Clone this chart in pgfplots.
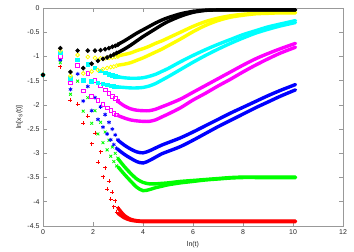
\documentclass[border=0pt]{standalone}
\usepackage{pgfplots}
\usepackage{pgfplotstable}
\pgfplotsset{compat=1.18}
\usepackage{fontspec}
\setmainfont{Liberation Sans}
\definecolor{gGreen}{RGB}{0,255,0}
\definecolor{gYellow}{RGB}{255,255,0}
\definecolor{gCyan}{RGB}{0,255,255}
\definecolor{gMag}{RGB}{255,0,255}
\definecolor{gBlue}{RGB}{0,0,255}
\definecolor{gRed}{RGB}{255,0,0}

\pgfplotstableread{
x      k      y      c      m      b      g      r
0.000 -1.38 -1.38 -1.38 -1.38 -1.38 -1.38 -1.38
0.693 -0.83 -0.88 -0.93 -1.00 -1.07 -1.13 -1.21
1.099 -1.32 -1.40 -1.45 -1.55 -1.68 -1.78 -1.90
1.386 -0.88 -0.97 -1.07 -1.19 -1.36 -1.51 -1.98
1.609 -1.24 -1.35 -1.49 -1.71 -1.92 -2.13 -2.38
1.792 -0.88 -1.01 -1.16 -1.35 -1.62 -1.85 -2.23
1.946 -1.15 -1.31 -1.52 -1.82 -2.12 -2.38 -2.80
2.079 -0.88 -1.03 -1.24 -1.50 -1.85 -2.12 -2.58
2.197 -1.09 -1.28 -1.55 -1.91 -2.30 -2.60 -3.18
2.303 -0.87 -1.04 -1.30 -1.60 -2.04 -2.36 -2.97
2.398 -1.05 -1.26 -1.57 -1.99 -2.46 -2.78 -3.48
2.485 -0.85 -1.04 -1.34 -1.69 -2.20 -2.56 -3.30
2.565 -1.02 -1.24 -1.59 -2.06 -2.60 -2.93 -3.74
2.639 -0.83 -1.03 -1.37 -1.76 -2.36 -2.73 -3.58
2.708 -0.99 -1.22 -1.61 -2.12 -2.72 -3.06 -3.95
2.773 -0.80 -1.02 -1.39 -1.82 -2.50 -2.87 -3.80
2.833 -0.96 -1.21 -1.62 -2.17 -2.82 -3.17 -4.10
2.890 -0.78 -1.01 -1.41 -1.87 -2.62 -3.00 -3.98
2.944 -0.93 -1.19 -1.63 -2.21 -2.90 -3.26 -4.22
2.996 -0.76 -1.00 -1.42 -1.92 -2.72 -3.10 -4.12
}\early

\pgfplotstableread{
x     kU    kL    yU    yL    cU    cL    mU    mL    bU    bL    gU    gL    rU    rL
3.00 -0.75 -0.92 -0.99 -1.18 -1.42 -1.63 -1.93 -2.22 -2.73 -2.92 -3.11 -3.28 -4.13 -4.24
3.25 -0.68 -0.85 -0.96 -1.16 -1.44 -1.64 -2.02 -2.27 -2.83 -3.02 -3.27 -3.43 -4.28 -4.33
3.50 -0.60 -0.77 -0.93 -1.13 -1.45 -1.65 -2.08 -2.31 -2.91 -3.10 -3.41 -3.57 -4.36 -4.38
3.75 -0.52 -0.68 -0.88 -1.08 -1.45 -1.65 -2.11 -2.33 -2.97 -3.17 -3.53 -3.70 -4.39 -4.40
4.00 -0.45 -0.59 -0.84 -1.03 -1.44 -1.64 -2.12 -2.34 -2.99 -3.20 -3.60 -3.77 -4.40 -4.41
4.25 -0.38 -0.51 -0.79 -0.97 -1.41 -1.61 -2.12 -2.34 -2.95 -3.15 -3.63 -3.75 -4.40 -4.41
4.50 -0.31 -0.43 -0.73 -0.91 -1.37 -1.56 -2.09 -2.31 -2.89 -3.08 -3.63 -3.71 -4.40 -4.41
4.75 -0.25 -0.35 -0.68 -0.85 -1.31 -1.49 -2.04 -2.25 -2.83 -3.01 -3.62 -3.68 -4.40 -4.41
5.00 -0.20 -0.28 -0.62 -0.78 -1.25 -1.42 -1.99 -2.19 -2.78 -2.96 -3.61 -3.65 -4.40 -4.41
5.50 -0.12 -0.17 -0.50 -0.64 -1.11 -1.27 -1.88 -2.06 -2.68 -2.86 -3.58 -3.61 -4.40 -4.41
6.00 -0.07 -0.09 -0.38 -0.49 -0.98 -1.12 -1.74 -1.90 -2.56 -2.73 -3.56 -3.58 -4.40 -4.41
6.50 -0.045 -0.05 -0.28 -0.36 -0.86 -0.98 -1.60 -1.76 -2.43 -2.59 -3.54 -3.55 -4.40 -4.41
7.00 -0.04 -0.04 -0.21 -0.26 -0.75 -0.85 -1.46 -1.61 -2.30 -2.45 -3.52 -3.53 -4.40 -4.41
7.50 -0.04 -0.04 -0.16 -0.19 -0.65 -0.73 -1.32 -1.47 -2.17 -2.32 -3.50 -3.51 -4.40 -4.41
8.00 -0.04 -0.04 -0.13 -0.15 -0.55 -0.62 -1.18 -1.32 -2.05 -2.19 -3.49 -3.50 -4.40 -4.41
8.50 -0.04 -0.04 -0.11 -0.12 -0.47 -0.52 -1.05 -1.18 -1.93 -2.06 -3.49 -3.50 -4.40 -4.41
9.00 -0.04 -0.04 -0.10 -0.11 -0.39 -0.44 -0.94 -1.05 -1.81 -1.94 -3.49 -3.50 -4.40 -4.41
9.50 -0.04 -0.04 -0.09 -0.10 -0.33 -0.37 -0.84 -0.93 -1.70 -1.82 -3.49 -3.50 -4.40 -4.41
10.10 -0.04 -0.04 -0.09 -0.10 -0.26 -0.30 -0.73 -0.81 -1.58 -1.69 -3.49 -3.50 -4.40 -4.41
}\late

\begin{document}
\begin{tikzpicture}
\begin{axis}[
  scale only axis, width=300bp, height=218bp,
  xmin=0, xmax=12, ymin=-4.5, ymax=0,
  xtick={0,2,4,6,8,10,12}, xticklabels={0,2,4,6,8,10,12},
  ytick={-4.5,-4,-3.5,-3,-2.5,-2,-1.5,-1,-0.5,0},
  yticklabels={-4.5,-4,-3.5,-3,-2.5,-2,-1.5,-1,-0.5,0},
  tick align=inside, major tick length=4bp,
  axis line style={black!40, line width=0.6bp},
  tick style={black!40, line width=0.6bp},
  ticklabel style={font=\fontsize{7}{8}\selectfont, text=black!85},
  xlabel={ln(t)}, ylabel={ln[x\textsubscript{S}(t)]},
  label style={font=\fontsize{7}{8}\selectfont, text=black!85},
  ylabel style={yshift=-2bp},
  clip=false,
  every axis plot/.append style={line width=0.8bp},
]
% red
\addplot[only marks, mark=+, mark size=2bp, gRed] table[x=x,y=r]{\early};
\addplot[smooth, gRed, line width=3.4bp, line cap=round] table[x=x,y=rU]{\late};
\addplot[smooth, gRed, line width=3.4bp, line cap=round] table[x=x,y=rL]{\late};
% green
\addplot[only marks, mark=x, mark size=2bp, gGreen] table[x=x,y=g]{\early};
\addplot[smooth, gGreen, line width=3.4bp, line cap=round] table[x=x,y=gU]{\late};
\addplot[smooth, gGreen, line width=3.4bp, line cap=round] table[x=x,y=gL]{\late};
% blue
\addplot[only marks, mark=asterisk, mark size=2bp, gBlue] table[x=x,y=b]{\early};
\addplot[smooth, gBlue, line width=3.4bp, line cap=round] table[x=x,y=bU]{\late};
\addplot[smooth, gBlue, line width=3.4bp, line cap=round] table[x=x,y=bL]{\late};
% magenta
\addplot[only marks, mark=square, mark size=1.8bp, gMag] table[x=x,y=m]{\early};
\addplot[smooth, gMag, line width=3.4bp, line cap=round] table[x=x,y=mU]{\late};
\addplot[smooth, gMag, line width=3.4bp, line cap=round] table[x=x,y=mL]{\late};
% cyan
\addplot[only marks, mark=square*, mark size=1.8bp, gCyan] table[x=x,y=c]{\early};
\addplot[smooth, gCyan, line width=3.4bp, line cap=round] table[x=x,y=cU]{\late};
\addplot[smooth, gCyan, line width=3.4bp, line cap=round] table[x=x,y=cL]{\late};
% yellow
\addplot[only marks, mark=o, mark size=1.9bp, gYellow] table[x=x,y=y]{\early};
\addplot[smooth, gYellow, line width=3.4bp, line cap=round] table[x=x,y=yU]{\late};
\addplot[smooth, gYellow, line width=3.4bp, line cap=round] table[x=x,y=yL]{\late};
% black
\addplot[only marks, mark=*, mark size=1.9bp, black] table[x=x,y=k]{\early};
\addplot[smooth, black, line width=3.4bp, line cap=round] table[x=x,y=kU]{\late};
\addplot[smooth, black, line width=3.4bp, line cap=round] table[x=x,y=kL]{\late};
\end{axis}
\path ([xshift=-43bp,yshift=-22bp]current axis.south west) rectangle ([xshift=11bp,yshift=8bp]current axis.north east);
\end{tikzpicture}
\end{document}
